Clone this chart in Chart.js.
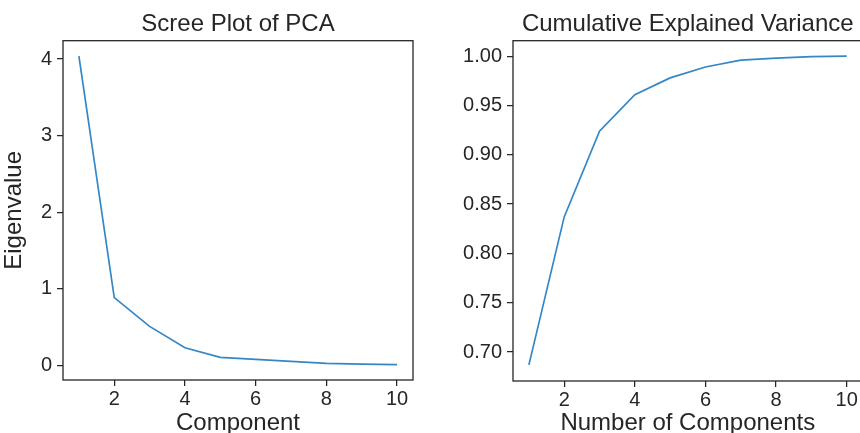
<!DOCTYPE html>
<html>
<head>
<meta charset="utf-8">
<script src="https://cdn.jsdelivr.net/npm/chart.js@4/dist/chart.umd.min.js"></script>
<style>
  html, body { margin: 0; padding: 0; background: #ffffff; overflow: hidden; width: 860px; height: 433px; }
  #left { position: absolute; left: 0; top: 0; }
  #right { position: absolute; left: 430px; top: 0; }
</style>
</head>
<body>
<canvas id="left" width="430" height="433"></canvas>
<canvas id="right" width="434" height="433"></canvas>
<script>
// ---- data ----
const components = [1, 2, 3, 4, 5, 6, 7, 8, 9, 10];
const eigenvalues = [4.04, 0.885, 0.51, 0.23, 0.105, 0.078, 0.052, 0.027, 0.017, 0.01];
const cumulativeVariance = [0.687, 0.837, 0.924, 0.961, 0.978, 0.989, 0.996, 0.998, 0.9995, 1.0];
const xTickValues = [2, 4, 6, 8, 10];
const eigenTickValues = [0, 1, 2, 3, 4];
const cumTickValues = [0.70, 0.75, 0.80, 0.85, 0.90, 0.95, 1.00];

// ---- style ----
const INK = '#262626';
const LINE = '#3487c7';
Chart.defaults.font.family = "'Liberation Sans', Arial, sans-serif";
Chart.defaults.color = INK;

const frame = {
  id: 'frame',
  afterDraw(chart) {
    const a = chart.chartArea, c = chart.ctx;
    c.save();
    c.strokeStyle = INK;
    c.lineWidth = 1.3;
    c.strokeRect(a.left, a.top, a.right - a.left, a.bottom - a.top);
    c.restore();
  }
};

function fixedTicks(list) {
  return (scale) => { scale.ticks = list.map(v => ({ value: v })); };
}

function makeChart(id, opts) {
  const pts = components.map((x, i) => ({ x: x, y: opts.values[i] }));
  return new Chart(document.getElementById(id), {
    type: 'line',
    data: {
      datasets: [{
        data: pts,
        borderColor: LINE,
        borderWidth: 1.7,
        pointRadius: 0,
        tension: 0,
        fill: false
      }]
    },
    options: {
      responsive: false,
      animation: false,
      devicePixelRatio: 1,
      layout: { padding: { left: 0, right: opts.padRight, top: 0, bottom: 0 } },
      plugins: {
        legend: { display: false },
        tooltip: { enabled: false },
        title: {
          display: true,
          text: opts.title,
          fullSize: false,
          color: INK,
          font: { size: 24, weight: 'normal' },
          padding: { top: 9.8, bottom: 2.1 }
        }
      },
      scales: {
        x: {
          type: 'linear',
          min: 0.55,
          max: 10.45,
          afterBuildTicks: fixedTicks(xTickValues),
          afterFit: (s) => { s.height = opts.xAxisHeight; },
          border: { display: false },
          grid: { display: true, drawOnChartArea: false, drawTicks: true, tickLength: 6, color: INK, lineWidth: 1.25 },
          ticks: { color: INK, font: { size: 20 }, padding: 1, maxRotation: 0, autoSkip: false },
          title: {
            display: true,
            text: opts.xTitle,
            color: INK,
            font: { size: 24 },
            padding: { top: 0, bottom: -5 }
          }
        },
        y: {
          type: 'linear',
          min: opts.yMin,
          max: opts.yMax,
          afterBuildTicks: fixedTicks(opts.yTicks),
          afterFit: (s) => { s.width = opts.yAxisWidth; },
          border: { display: false },
          grid: { display: true, drawOnChartArea: false, drawTicks: true, tickLength: 6, color: INK, lineWidth: 1.25 },
          ticks: {
            color: INK,
            font: { size: 20 },
            padding: 5,
            autoSkip: false,
            callback: opts.tickFormat
          },
          title: {
            display: !!opts.yTitle,
            text: opts.yTitle || '',
            color: INK,
            font: { size: 24 },
            padding: { top: 0, bottom: 0 }
          }
        }
      }
    },
    plugins: [frame]
  });
}

makeChart('left', {
  values: eigenvalues,
  title: 'Scree Plot of PCA',
  xTitle: 'Component',
  yTitle: 'Eigenvalue',
  yMin: -0.19,
  yMax: 4.24,
  yTicks: eigenTickValues,
  tickFormat: (v) => String(v),
  padRight: 17,
  xAxisHeight: 53,
  yAxisWidth: 63
});

makeChart('right', {
  values: cumulativeVariance,
  title: 'Cumulative Explained Variance',
  xTitle: 'Number of Components',
  yTitle: null,
  yMin: 0.6706,
  yMax: 1.0157,
  yTicks: cumTickValues,
  tickFormat: (v) => Number(v).toFixed(2),
  padRight: 1.4,
  xAxisHeight: 52,
  yAxisWidth: 83
});
</script>
</body>
</html>
